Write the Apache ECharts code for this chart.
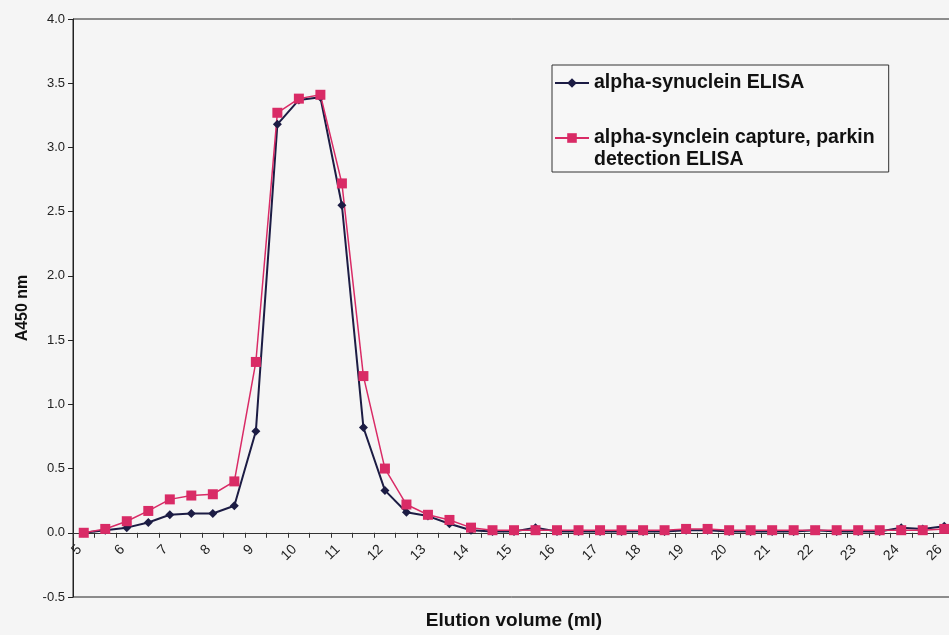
<!DOCTYPE html>
<html>
<head>
<meta charset="utf-8">
<script src="https://cdn.jsdelivr.net/npm/echarts@6/dist/echarts.min.js"></script>
<style>
  html, body { margin: 0; padding: 0; background: #f5f5f5; }
  #chart { width: 949px; height: 635px; }
</style>
</head>
<body>
<div id="chart"></div>
<script>
// elution volumes (ml), one per fraction
var volumes = ['5', '5.5', '6', '6.5', '7', '7.5', '8', '8.5', '9', '9.5',
  '10', '10.5', '11', '11.5', '12', '12.5', '13', '13.5', '14', '14.5',
  '15', '15.5', '16', '16.5', '17', '17.5', '18', '18.5', '19', '19.5',
  '20', '20.5', '21', '21.5', '22', '22.5', '23', '23.5', '24', '25', '26'];

// alpha-synuclein ELISA (A450)
var synElisa = [0.00, 0.02, 0.04, 0.08, 0.14, 0.15, 0.15, 0.21, 0.79, 3.18,
  3.37, 3.39, 2.55, 0.82, 0.33, 0.16, 0.13, 0.07, 0.02, 0.01,
  0.01, 0.04, 0.01, 0.01, 0.01, 0.01, 0.01, 0.01, 0.02, 0.02,
  0.01, 0.01, 0.01, 0.01, 0.02, 0.01, 0.01, 0.01, 0.04, 0.03, 0.05];

// alpha-synuclein capture, parkin detection ELISA (A450)
var parkinElisa = [0.00, 0.03, 0.09, 0.17, 0.26, 0.29, 0.30, 0.40, 1.33, 3.27,
  3.38, 3.41, 2.72, 1.22, 0.50, 0.22, 0.14, 0.10, 0.04, 0.02,
  0.02, 0.02, 0.02, 0.02, 0.02, 0.02, 0.02, 0.02, 0.03, 0.03,
  0.02, 0.02, 0.02, 0.02, 0.02, 0.02, 0.02, 0.02, 0.02, 0.02, 0.03];

var seriesNames = ['alpha-synuclein ELISA', 'alpha-synclein capture, parkin\ndetection ELISA'];

var font = 'Arial, "Liberation Sans", sans-serif';

var myChart = echarts.init(document.getElementById('chart'));
var option = {
  backgroundColor: '#f5f5f5',
  animation: false,
  grid: {
    left: 73,
    top: 19,
    width: 882,
    height: 578,
    containLabel: false,
    outerBoundsMode: 'none',
    show: true,
    backgroundColor: 'transparent',
    borderColor: '#222',
    borderWidth: 1
  },
  legend: {
    orient: 'vertical',
    left: 552,
    top: 65,
    padding: [7, 14, 1, 2],
    itemGap: 11,
    itemWidth: 34,
    itemHeight: 12,
    borderColor: '#333',
    borderWidth: 1,
    backgroundColor: '#f7f7f7',
    data: seriesNames,
    formatter: function (name) {
      // extra blank top line keeps the marker beside the first text line
      return name.indexOf('\n') >= 0 ? ' \n' + name : name;
    },
    textStyle: {
      fontFamily: font,
      fontWeight: 'bold',
      fontSize: 19.5,
      lineHeight: 22,
      color: '#111'
    }
  },
  xAxis: {
    type: 'category',
    data: volumes,
    boundaryGap: true,
    name: 'Elution volume (ml)',
    nameLocation: 'middle',
    nameGap: 14,
    nameTextStyle: {
      fontFamily: font,
      fontWeight: 'bold',
      fontSize: 19,
      color: '#111'
    },
    axisLine: {
      onZero: true,
      lineStyle: { color: '#333', width: 1 }
    },
    axisTick: {
      show: true,
      interval: 0,
      length: 5,
      lineStyle: { color: '#333' }
    },
    axisLabel: {
      interval: 1,
      rotate: 45,
      // labels sit under the zero line, not the grid bottom
      margin: -54,
      padding: [0, 6, 0, 0],
      fontFamily: font,
      fontSize: 14,
      color: '#222'
    },
    splitLine: { show: false }
  },
  yAxis: {
    type: 'value',
    min: -0.5,
    max: 4,
    interval: 0.5,
    name: 'A450 nm',
    nameLocation: 'middle',
    nameGap: 42,
    nameTextStyle: {
      fontFamily: font,
      fontWeight: 'bold',
      fontSize: 16,
      color: '#111'
    },
    axisLine: {
      show: true,
      lineStyle: { color: '#222', width: 1 }
    },
    axisTick: {
      show: true,
      length: 5,
      lineStyle: { color: '#222' }
    },
    axisLabel: {
      margin: 8,
      fontFamily: font,
      fontSize: 13,
      color: '#222',
      formatter: function (v) { return v.toFixed(1); }
    },
    splitLine: { show: false }
  },
  series: [{
    name: seriesNames[0],
    type: 'line',
    data: synElisa,
    symbol: 'diamond',
    symbolSize: 9,
    color: '#1c1c44',
    lineStyle: { color: '#1c1c44', width: 2 },
    itemStyle: { color: '#1c1c44' }
  }, {
    name: seriesNames[1],
    type: 'line',
    data: parkinElisa,
    symbol: 'rect',
    symbolSize: 10,
    color: '#d92b66',
    lineStyle: { color: '#d92b66', width: 1.5 },
    itemStyle: { color: '#d92b66' }
  }]
};
myChart.setOption(option, true);
</script>
</body>
</html>
